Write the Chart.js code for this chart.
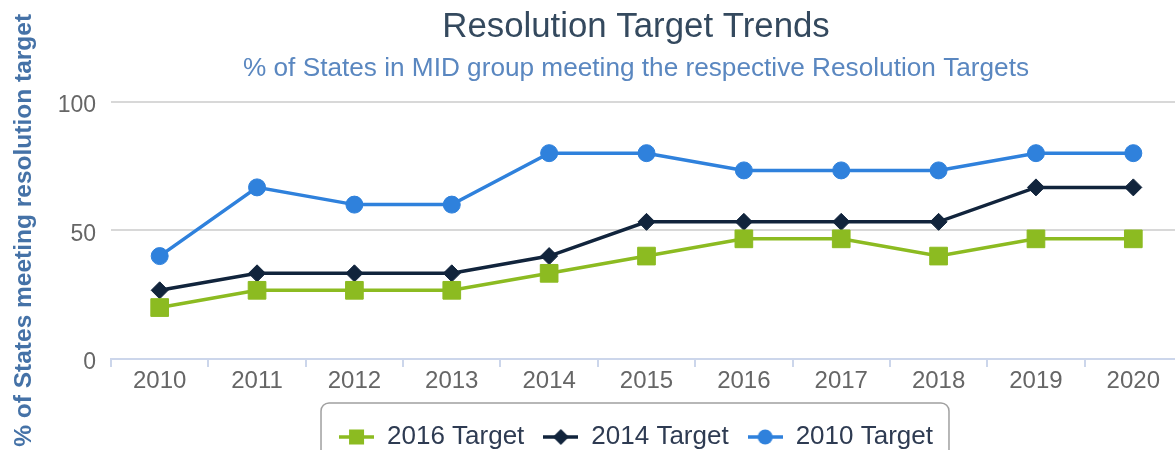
<!DOCTYPE html>
<html>
<head>
<meta charset="utf-8">
<script src="https://cdn.jsdelivr.net/npm/chart.js@4.4.1/dist/chart.umd.min.js"></script>
<style>
html,body{margin:0;padding:0;overflow:hidden;background:#fff;width:1175px;height:450px;}
#wrap{position:absolute;left:0;top:0;width:1272px;height:460px;}
</style>
</head>
<body>
<div id="wrap"><canvas id="c" width="1272" height="460"></canvas></div>
<script>
const years = ['2010','2011','2012','2013','2014','2015','2016','2017','2018','2019','2020'];
const target2016 = [20, 26.7, 26.7, 26.7, 33.3, 40, 46.7, 46.7, 40, 46.7, 46.7];
const target2014 = [26.7, 33.3, 33.3, 33.3, 40, 53.3, 53.3, 53.3, 53.3, 66.7, 66.7];
const target2010 = [40, 66.7, 60, 60, 80, 80, 73.3, 73.3, 73.3, 80, 80];
const seriesNames = ['2016 Target', '2014 Target', '2010 Target'];
const seriesColors = ['#8cbb21', '#11243c', '#2f81dc'];
const markerStyles = ['rect', 'rectRot', 'circle'];
const markerRadius = [12.5, 8.5, 8.5];
const titleText = 'Resolution Target Trends';
const subtitleText = '% of States in MID group meeting the respective Resolution Targets';
const yAxisTitle = '% of States meeting resolution target';
const yMin = 0, yMax = 100, yStep = 50;

const FONT = "'Liberation Sans', Arial, sans-serif";

function legendIcon(color, style) {
  const w = 35, h = 20;
  const c = document.createElement('canvas');
  c.width = w; c.height = h;
  const g = c.getContext('2d');
  g.strokeStyle = color; g.lineWidth = 3.5;
  g.beginPath(); g.moveTo(0, h / 2); g.lineTo(w, h / 2); g.stroke();
  g.fillStyle = color;
  const cx = w / 2, cy = h / 2;
  if (style === 'rect') {
    g.fillRect(cx - 7.5, cy - 7.5, 15, 15);
  } else if (style === 'rectRot') {
    g.beginPath(); g.moveTo(cx - 8, cy); g.lineTo(cx, cy - 8); g.lineTo(cx + 8, cy); g.lineTo(cx, cy + 8); g.closePath(); g.fill();
  } else {
    g.beginPath(); g.arc(cx, cy, 7.5, 0, Math.PI * 2); g.fill();
  }
  return c;
}

const seriesData = [target2016, target2014, target2010];
const datasets = seriesData.map((d, i) => ({
  label: seriesNames[i],
  data: d,
  borderColor: seriesColors[i],
  backgroundColor: seriesColors[i],
  pointBackgroundColor: seriesColors[i],
  pointBorderColor: seriesColors[i],
  pointBorderWidth: 1,
  pointStyle: markerStyles[i],
  pointRadius: markerRadius[i],
  pointHoverRadius: markerRadius[i],
  borderWidth: 3.5,
  tension: 0,
  fill: false
}));

const legendBorder = {
  id: 'legendBorder',
  afterDraw(chart) {
    const lg = chart.legend;
    const hb = lg.legendHitBoxes;
    if (!hb || !hb.length) return;
    const last = hb[hb.length - 1];
    const l = hb[0].left - 18, r = last.left + last.width + 16;
    const t = lg.top - 2, b = chart.height + 10;
    const ctx = chart.ctx;
    ctx.save();
    ctx.strokeStyle = '#a0a0a0';
    ctx.lineWidth = 1.5;
    ctx.beginPath();
    ctx.roundRect(l, t, r - l, b - t, 8);
    ctx.stroke();
    ctx.restore();
  }
};

new Chart(document.getElementById('c'), {
  type: 'line',
  data: { labels: years, datasets },
  options: {
    responsive: false,
    animation: false,
    devicePixelRatio: 1,
    layout: { padding: 0 },
    plugins: {
      title: { display: true, text: titleText, color: '#34495e', font: { size: 34.8, family: FONT, weight: 'normal' }, padding: { top: 7, bottom: 0 } },
      subtitle: { display: true, text: subtitleText, color: '#5a87c0', font: { size: 26.2, family: FONT, weight: 'normal' }, padding: { top: 4, bottom: 17.5 } },
      legend: {
        position: 'bottom',
        labels: {
          usePointStyle: true,
          pointStyleWidth: 35,
          padding: 19,
          color: '#2e3b52',
          font: { size: 26, family: FONT },
          generateLabels(chart) {
            const items = Chart.defaults.plugins.legend.labels.generateLabels(chart);
            return items.map((it, i) => Object.assign(it, { pointStyle: legendIcon(seriesColors[i], markerStyles[i]) }));
          }
        }
      },
      tooltip: { enabled: false }
    },
    scales: {
      x: {
        offset: true,
        grid: { offset: true, drawOnChartArea: false, drawTicks: true, tickLength: 8, color: '#ccd6eb', lineWidth: 2 },
        border: { display: true, color: '#ccd6eb', width: 2 },
        ticks: { font: { size: 24, family: FONT }, color: '#666666', padding: 0, maxRotation: 0, autoSkip: false },
        afterFit(s) { s.height = 46; }
      },
      y: {
        min: yMin, max: yMax,
        ticks: { stepSize: yStep, font: { size: 23, family: FONT }, color: '#666666', padding: 15, labelOffset: 4 },
        grid: { drawTicks: false, lineWidth: 2, color: (c) => (c.tick && c.tick.value === 0) ? 'rgba(0,0,0,0)' : '#d8d8d8' },
        border: { display: false },
        title: { display: true, text: yAxisTitle, color: '#4572a7', font: { size: 24.5, weight: 'bold', family: FONT }, padding: { top: 10, bottom: 0 } },
        afterFit(s) { s.width = 111; }
      },
      y2: {
        position: 'right',
        display: true,
        ticks: { display: false },
        grid: { display: false },
        border: { display: false },
        afterFit(s) { s.width = 90; }
      }
    }
  },
  plugins: [legendBorder]
});
</script>
</body>
</html>
